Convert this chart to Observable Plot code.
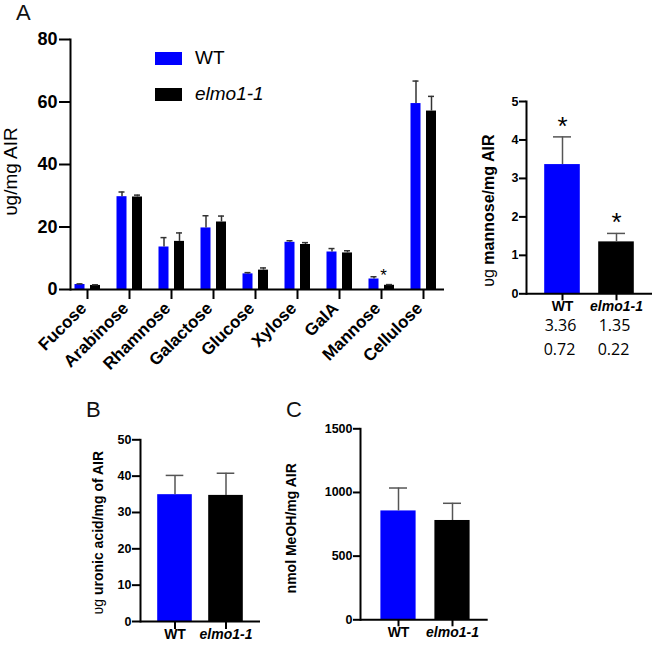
<!DOCTYPE html>
<html>
<head>
<meta charset="utf-8">
<script src="https://cdn.jsdelivr.net/npm/d3@7"></script>
<script src="https://cdn.jsdelivr.net/npm/@observablehq/plot@0.6"></script>
<style>
  body { margin: 0; background: #fff; }
  #fig { position: relative; width: 656px; height: 645px; font-family: "Liberation Sans", Arial, sans-serif; overflow: hidden; }
  #fig > svg, #fig > div { position: absolute; }
  .letter { font-size: 22px; color: #111; }
  .leg { font-size: 19px; display: flex; align-items: center; }
  .sw { width: 27px; height: 13px; margin-right: 13px; }
</style>
</head>
<body>
<div id="fig"></div>
<script>
// ---- Data ----
const genotypes = ["WT", "elmo1-1"];
const genotypeColors = ["#0000ff", "#000000"];

// Panel A: monosaccharides (ug/mg AIR)
const sugars = ["Fucose", "Arabinose", "Rhamnose", "Galactose", "Glucose", "Xylose", "GalA", "Mannose", "Cellulose"];
const wtSugar = [1.6, 29.7, 13.6, 19.7, 5.0, 15.1, 12.0, 3.36, 59.5];
const wtSugarErr = [0.2, 1.5, 3.0, 3.9, 0.4, 0.5, 1.1, 0.72, 7.2];
const elmoSugar = [1.3, 29.6, 15.4, 21.6, 6.2, 14.4, 11.7, 1.35, 57.1];
const elmoSugarErr = [0.2, 0.6, 2.7, 1.9, 0.7, 0.6, 0.7, 0.22, 4.7];
const sugarTicks = [0, 20, 40, 60, 80];

// Inset: mannose
const mannoseMean = [3.36, 1.35];
const mannoseSD = [0.72, 0.22];
const mannoseTicks = [0, 1, 2, 3, 4, 5];

// Panel B: uronic acid
const uronicMean = [34.9, 34.7];
const uronicErr = [5.3, 6.1];
const uronicTicks = [0, 10, 20, 30, 40, 50];

// Panel C: methanol
const meohMean = [855, 780];
const meohErr = [180, 135];
const meohTicks = [0, 500, 1000, 1500];

const fig = document.getElementById("fig");
const FONT = "'Liberation Sans', Arial, sans-serif";
const intFmt = d3.format("d");

function italicizeTicks(svg) {
  d3.select(svg).selectAll("g[aria-label='x-axis tick label'] text")
    .filter(function () { return this.textContent === "elmo1-1"; })
    .attr("font-style", "italic");
}

// ---- Panel A ----
{
  const rows = sugars.map((s, i) => ({s, wt: wtSugar[i], wte: wtSugarErr[i], el: elmoSugar[i], ele: elmoSugarErr[i]}));
  const p = Plot.plot({
    width: 450, height: 390,
    marginLeft: 70, marginTop: 39, marginBottom: 101, marginRight: 6,
    style: {fontFamily: FONT, fontSize: "18px", fontWeight: "bold", color: "black", background: "transparent", overflow: "visible"},
    x: {domain: sugars, range: [66, 444], padding: 0},
    y: {domain: [0, 80], range: [289, 39]},
    marks: [
      Plot.barY(rows, {x: "s", y: "wt", fill: genotypeColors[0], dx: -7.5, insetLeft: 16, insetRight: 16}),
      Plot.barY(rows, {x: "s", y: "el", fill: genotypeColors[1], dx: 8, insetLeft: 16, insetRight: 16}),
      Plot.ruleX(rows, {x: "s", y1: "wt", y2: d => d.wt + d.wte, dx: -7.5, stroke: "#333", strokeWidth: 1.5}),
      Plot.tickY(rows, {x: "s", y: d => d.wt + d.wte, dx: -7.5, insetLeft: 18, insetRight: 18, stroke: "#333", strokeWidth: 1.5}),
      Plot.ruleX(rows, {x: "s", y1: "el", y2: d => d.el + d.ele, dx: 8, stroke: "#333", strokeWidth: 1.5}),
      Plot.tickY(rows, {x: "s", y: d => d.el + d.ele, dx: 8, insetLeft: 18, insetRight: 18, stroke: "#333", strokeWidth: 1.5}),
      Plot.text(rows.filter(d => d.s === "Mannose"), {x: "s", y: d => d.el + d.ele, text: () => "*", dx: 2, dy: -4, fontSize: 17, fontWeight: "normal", lineAnchor: "bottom"}),
      Plot.ruleY([0], {stroke: "black", strokeWidth: 2}),
      Plot.frame({anchor: "left", stroke: "black", strokeWidth: 2}),
      Plot.axisY({ticks: sugarTicks, tickFormat: intFmt, tickSize: 11, tickPadding: 2, strokeWidth: 2, label: null}),
      Plot.axisX({tickSize: 10, tickPadding: 2, strokeWidth: 2, label: null, text: null}),
      Plot.axisX({tickSize: 0, tickPadding: 16, dx: -4, tickRotate: -45, label: null, fontSize: 17}),
      Plot.text(["υg/mg AIR"], {frameAnchor: "left", text: d => d, rotate: -90, textAnchor: "middle", dx: -60, dy: 7, fontSize: 19, fontWeight: "normal"})
    ]
  });
  p.style.left = "0px"; p.style.top = "0px";
  fig.appendChild(p);
}

// ---- Small bar chart helper ----
function smallBar({values, errs, ticks, domainMax, left, top, width, height, marginLeft, marginTop, marginBottom, marginRight, xRange, inset, tickSize, label, labelDx, labelDy, labelSize = 14, capInset, extra = []}) {
  const rows = genotypes.map((g, i) => ({g, v: values[i], e: errs[i], c: genotypeColors[i]}));
  const p = Plot.plot({
    width, height, marginLeft, marginTop, marginBottom, marginRight,
    style: {fontFamily: FONT, fontSize: "12.5px", fontWeight: "bold", color: "black", background: "transparent", overflow: "visible"},
    x: {domain: genotypes, range: xRange, padding: 0},
    y: {domain: [0, domainMax]},
    marks: [
      Plot.barY(rows, {x: "g", y: "v", fill: "c", insetLeft: inset, insetRight: inset}),
      Plot.ruleX(rows, {x: "g", y1: "v", y2: d => d.v + d.e, stroke: "#555", strokeWidth: 1.5}),
      Plot.tickY(rows, {x: "g", y: d => d.v + d.e, insetLeft: capInset, insetRight: capInset, stroke: "#555", strokeWidth: 1.5}),
      Plot.ruleY([0], {stroke: "black", strokeWidth: 2}),
      Plot.frame({anchor: "left", stroke: "black", strokeWidth: 2}),
      Plot.axisY({ticks, tickFormat: intFmt, tickSize, tickPadding: 1, strokeWidth: 2, label: null}),
      Plot.axisX({tickSize, tickPadding: 0, strokeWidth: 2, label: null, fontSize: 14}),
      Plot.text([label], {frameAnchor: "left", text: d => d, rotate: -90, textAnchor: "middle", dx: labelDx, dy: labelDy, fontSize: labelSize}),
      ...extra(rows)
    ]
  });
  italicizeTicks(p);
  p.style.left = left + "px"; p.style.top = top + "px";
  fig.appendChild(p);
  return p;
}

function splitLabel(p) {
  // render "υg" in regular weight, rest bold
  d3.select(p).selectAll("text").filter(function () { return this.textContent.startsWith("υg "); })
    .each(function () {
      const t = this.textContent;
      const el = d3.select(this);
      el.text(null);
      el.append("tspan").attr("font-weight", "normal").text("υg ");
      el.append("tspan").text(t.slice(3));
    });
}

// Inset mannose
{
  const p = smallBar({
    values: mannoseMean, errs: mannoseSD, ticks: mannoseTicks, domainMax: 5,
    left: 460, top: 80, width: 196, height: 300,
    marginLeft: 66, marginTop: 21, marginBottom: 86.7, marginRight: 4,
    xRange: [74.5, 183.2], inset: 9.2, tickSize: 7, capInset: 18,
    label: "υg mannose/mg AIR", labelDx: -38, labelDy: 13, labelSize: 16,
    extra: rows => [
      Plot.text(rows, {x: "g", y: d => d.v + d.e, text: () => "*", dy: -2, fontSize: 26, fontWeight: "normal", lineAnchor: "bottom"}),
      Plot.text(rows, {x: "g", text: d => d3.format(".2f")(d.v), frameAnchor: "bottom", dy: 37, dx: -2, fontSize: 16, fontWeight: "normal", fontFamily: "'Open Sans', sans-serif"}),
      Plot.text(rows, {x: "g", text: d => d3.format(".2f")(mannoseSD[genotypes.indexOf(d.g)]), frameAnchor: "bottom", dy: 61, dx: -3, fontSize: 16, fontWeight: "normal", fontFamily: "'Open Sans', sans-serif"})
    ]
  });
  splitLabel(p);
}

// Panel B
{
  const p = smallBar({
    values: uronicMean, errs: uronicErr, ticks: uronicTicks, domainMax: 50,
    left: 80, top: 420, width: 185, height: 225,
    marginLeft: 60, marginTop: 19.3, marginBottom: 24, marginRight: 5,
    xRange: [68.6, 171.4], inset: 8.2, tickSize: 8, capInset: 16.7,
    label: "υg uronic acid/mg of AIR", labelDx: -42, labelDy: 2,
    extra: () => []
  });
  splitLabel(p);
}

// Panel C
{
  smallBar({
    values: meohMean, errs: meohErr, ticks: meohTicks, domainMax: 1500,
    left: 270, top: 410, width: 220, height: 235,
    marginLeft: 90, marginTop: 18.3, marginBottom: 25.7, marginRight: 2.3,
    xRange: [100.1, 208.9], inset: 9.4, tickSize: 7, capInset: 18,
    label: "nmol MeOH/mg AIR", labelDx: -69, labelDy: 4,
    extra: () => []
  });
}

// ---- Panel letters and legend (HTML) ----
function addDiv(html, cls, left, top) {
  const d = document.createElement("div");
  d.className = cls; d.innerHTML = html;
  d.style.left = left + "px"; d.style.top = top + "px";
  fig.appendChild(d);
  return d;
}
addDiv("A", "letter", 16, 0);
addDiv("B", "letter", 86, 397);
addDiv("C", "letter", 286, 397);
genotypes.forEach((g, i) => {
  const d = addDiv(`<span class="sw" style="background:${genotypeColors[i]}"></span><span>${g}</span>`, "leg", 155, 47 + i * 36);
  if (i === 1) d.lastChild.style.fontStyle = "italic";
});
</script>
</body>
</html>
